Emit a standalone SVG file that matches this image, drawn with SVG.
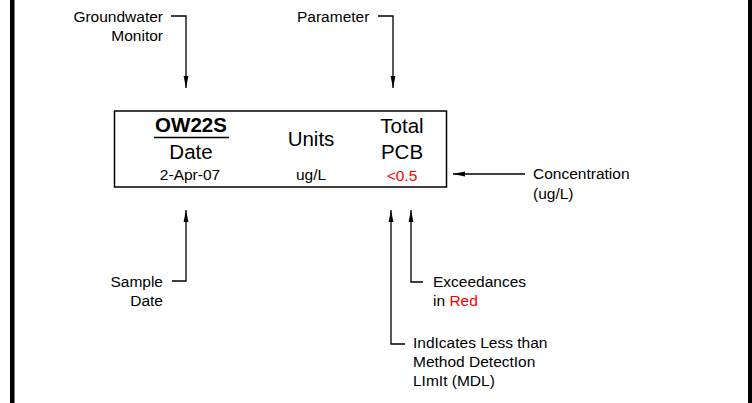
<svg xmlns="http://www.w3.org/2000/svg" width="752" height="403" viewBox="0 0 752 403">
<style>
text{font-family:"Liberation Sans",Arial,sans-serif;fill:#000}
.lbl{font-size:15.5px}
.hd{font-size:20.5px;text-anchor:middle}
.val{font-size:15.5px;text-anchor:middle}
.red{fill:#ff0000}
.ln{stroke:#000;stroke-width:1.3;fill:none}
</style>
<defs>
<marker id="ah" viewBox="0 0 12 6" refX="12" refY="3" markerWidth="12" markerHeight="6" markerUnits="userSpaceOnUse" orient="auto">
<path d="M0,0.6 L12,3 L0,5.4 Z" fill="#000"/>
</marker>
</defs>
<rect x="0" y="0" width="752" height="403" fill="#fff"/>
<rect x="10" y="0" width="4.5" height="403" fill="#000"/>
<rect x="748" y="0" width="4" height="403" fill="#000"/>
<g id="table">
<rect x="114.5" y="111" width="332" height="76" fill="#fff" stroke="#000" stroke-width="1.5"/>
<text x="191" y="132" class="hd" font-weight="bold" font-size="20">OW22S</text>
<line x1="154" y1="137.5" x2="229" y2="137.5" stroke="#000" stroke-width="1.5"/>
<text x="191" y="158.5" class="hd">Date</text>
<text x="311" y="145.5" class="hd">Units</text>
<text x="402" y="132.5" class="hd">Total</text>
<text x="402" y="158.5" class="hd">PCB</text>
<text x="190" y="180" class="val">2-Apr-07</text>
<text x="311" y="180" class="val">ug/L</text>
<text x="402" y="180.5" class="val red">&lt;0.5</text>
</g>
<g id="label-groundwater">
<text x="163" y="22" class="lbl" text-anchor="end">Groundwater</text>
<text x="163" y="41" class="lbl" text-anchor="end">Monitor</text>
</g>
<g id="label-parameter">
<text x="297" y="22" class="lbl">Parameter</text>
</g>
<g id="label-concentration">
<text x="533" y="179" class="lbl">Concentration</text>
<text x="533" y="199" class="lbl">(ug/L)</text>
</g>
<g id="label-sampledate">
<text x="163" y="287" class="lbl" text-anchor="end">Sample</text>
<text x="163" y="306" class="lbl" text-anchor="end">Date</text>
</g>
<g id="label-exceedances">
<text x="433" y="287" class="lbl">Exceedances</text>
<text x="433" y="306" class="lbl">in <tspan class="red">Red</tspan></text>
</g>
<g id="label-mdl">
<text x="413" y="348" class="lbl">IndIcates Less than</text>
<text x="413" y="367" class="lbl">Method DetectIon</text>
<text x="413" y="386" class="lbl">LImIt (MDL)</text>
</g>
<g id="connectors">
<path class="ln" d="M171,16 H186 V88" marker-end="url(#ah)"/>
<path class="ln" d="M378,16 H393 V88" marker-end="url(#ah)"/>
<path class="ln" d="M525,174 H453" marker-end="url(#ah)"/>
<path class="ln" d="M172,281 H186 V210" marker-end="url(#ah)"/>
<path class="ln" d="M423,282 H411 V210" marker-end="url(#ah)"/>
<path class="ln" d="M405,344 H391 V210" marker-end="url(#ah)"/>
</g>
</svg>
